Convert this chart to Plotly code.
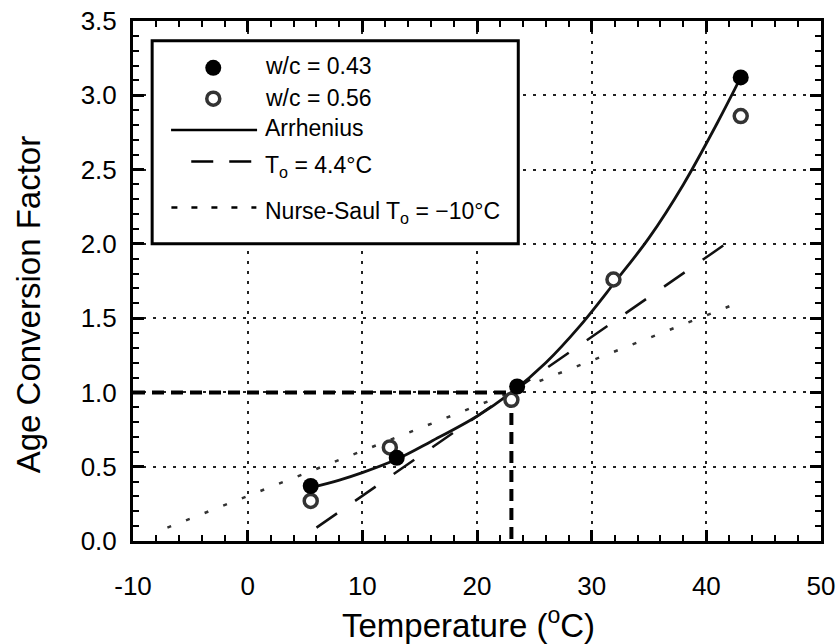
import plotly.graph_objects as go

# ---- data ----
wc043_T = [5.5, 13.0, 23.5, 43.0]
wc043_A = [0.37, 0.56, 1.04, 3.12]
wc056_T = [5.5, 12.4, 23.0, 31.9, 43.0]
wc056_A = [0.27, 0.63, 0.95, 1.76, 2.86]
arr_T = [5.5, 8, 10, 13, 16, 20, 23, 26, 29, 32, 35, 38, 41, 43]
arr_A = [0.36, 0.41, 0.46, 0.55, 0.67, 0.84, 1.0, 1.2, 1.45, 1.74, 2.04, 2.4, 2.82, 3.12]
t44_T = [6.0, 43.0]
t44_A = [0.09, 2.07]
ns_T = [-7.0, 43.0]
ns_A = [0.09, 1.61]
ref_T = [-10, 23, 23]
ref_A = [1.0, 1.0, 0.0]

x_ticks = [-10, 0, 10, 20, 30, 40, 50]
x_ticktext = ["-10", "0", "10", "20", "30", "40", "50"]
y_ticks = [0.0, 0.5, 1.0, 1.5, 2.0, 2.5, 3.0, 3.5]

FONT = "Liberation Sans, Arial, sans-serif"

fig = go.Figure()
fig.add_trace(go.Scatter(x=ns_T, y=ns_A, mode="lines",
                         line=dict(color="#333", width=2.5, dash="4px,16px")))
fig.add_trace(go.Scatter(x=t44_T, y=t44_A, mode="lines",
                         line=dict(color="#111", width=2.5, dash="25px,22px")))
fig.add_trace(go.Scatter(x=ref_T, y=ref_A, mode="lines",
                         line=dict(color="black", width=4, dash="12px,7px")))
fig.add_trace(go.Scatter(x=arr_T, y=arr_A, mode="lines", line_shape="spline",
                         line=dict(color="#111", width=2.8)))
fig.add_trace(go.Scatter(x=wc056_T, y=wc056_A, mode="markers",
                         marker=dict(symbol="circle", size=13, color="white",
                                     line=dict(color="#333", width=3.5))))
fig.add_trace(go.Scatter(x=wc043_T, y=wc043_A, mode="markers",
                         marker=dict(symbol="circle", size=16, color="black",
                                     line=dict(width=0))))

# ---- hand-made legend box (data coordinates) ----
LX0, LX1, LY0, LY1 = -8.33, 23.6, 2.0, 3.367
shapes = [dict(type="rect", xref="x", yref="y", x0=LX0, x1=LX1, y0=LY0, y1=LY1,
               fillcolor="white", line=dict(color="black", width=3), layer="above")]
mx = -3.0
rows = [3.185, 2.977, 2.767, 2.555, 2.245]
shapes.append(dict(type="circle", xref="x", yref="y", xsizemode="pixel", ysizemode="pixel",
                   xanchor=mx, yanchor=rows[0], x0=-8, x1=8, y0=-8, y1=8,
                   fillcolor="black", line=dict(width=0), layer="above"))
shapes.append(dict(type="circle", xref="x", yref="y", xsizemode="pixel", ysizemode="pixel",
                   xanchor=mx, yanchor=rows[1], x0=-6.5, x1=6.5, y0=-6.5, y1=6.5,
                   fillcolor="white", line=dict(color="#333", width=3.5), layer="above"))
shapes.append(dict(type="line", xref="x", yref="y", x0=-6.68, x1=0.82, y0=rows[2], y1=rows[2],
                   line=dict(color="black", width=2.5), layer="above"))
shapes.append(dict(type="line", xref="x", yref="y", x0=-4.92, x1=0.33, y0=rows[3], y1=rows[3],
                   line=dict(color="black", width=2.5, dash="22px,16px"), layer="above"))
shapes.append(dict(type="line", xref="x", yref="y", x0=-6.65, x1=0.76, y0=rows[4], y1=rows[4],
                   line=dict(color="black", width=2.5, dash="6px,14px"), layer="above"))

labels = ["w/c = 0.43", "w/c = 0.56", "Arrhenius",
          "T<sub>o</sub> = 4.4°C", "Nurse-Saul T<sub>o</sub> = −10°C"]
label_y = [3.194, 2.98, 2.78, 2.52, 2.21]
annotations = []
for txt, yy in zip(labels, label_y):
    annotations.append(dict(x=1.3, y=yy, xref="x", yref="y", text=txt, showarrow=False,
                            xanchor="left", yanchor="middle",
                            font=dict(family=FONT, size=23, color="black")))

# axis titles as annotations for precise placement
annotations.append(dict(x=0.488, y=-0.157, xref="paper", yref="paper",
                        text="Temperature (<sup>o</sup>C)", showarrow=False,
                        xanchor="center", yanchor="middle",
                        font=dict(family=FONT, size=33, color="black")))
annotations.append(dict(x=-0.152, y=0.456, xref="paper", yref="paper",
                        text="Age Conversion Factor", showarrow=False, textangle=-90,
                        xanchor="center", yanchor="middle",
                        font=dict(family=FONT, size=33, color="black")))

fig.update_layout(
    width=836, height=644,
    margin=dict(l=133, r=15, t=21, b=103, autoexpand=False),
    paper_bgcolor="white", plot_bgcolor="white",
    showlegend=False,
    shapes=shapes,
    annotations=annotations,
    font=dict(family=FONT, color="black"),
)

fig.update_xaxes(
    range=[-10, 50], tickvals=x_ticks, ticktext=x_ticktext, automargin=False,
    showline=True, linecolor="black", linewidth=3, mirror="allticks",
    ticks="inside", ticklen=11, tickwidth=2.5, tickcolor="black",
    tickfont=dict(family=FONT, size=26, color="black"), ticklabelstandoff=20,
    showgrid=True, gridcolor="#222", gridwidth=2, griddash="3px,7px",
    zeroline=False,
    minor=dict(dtick=2, ticks="inside", ticklen=6, tickwidth=2, tickcolor="black", showgrid=False),
)
fig.update_yaxes(
    range=[0, 3.5], tickvals=y_ticks, tickformat=".1f", automargin=False,
    showline=True, linecolor="black", linewidth=3, mirror="allticks",
    ticks="inside", ticklen=11, tickwidth=2.5, tickcolor="black",
    tickfont=dict(family=FONT, size=26, color="black"), ticklabelstandoff=8,
    showgrid=True, gridcolor="#222", gridwidth=2, griddash="3px,7px",
    zeroline=False,
    minor=dict(dtick=0.1, ticks="inside", ticklen=6, tickwidth=2, tickcolor="black", showgrid=False),
)

fig.write_html("out.html")
